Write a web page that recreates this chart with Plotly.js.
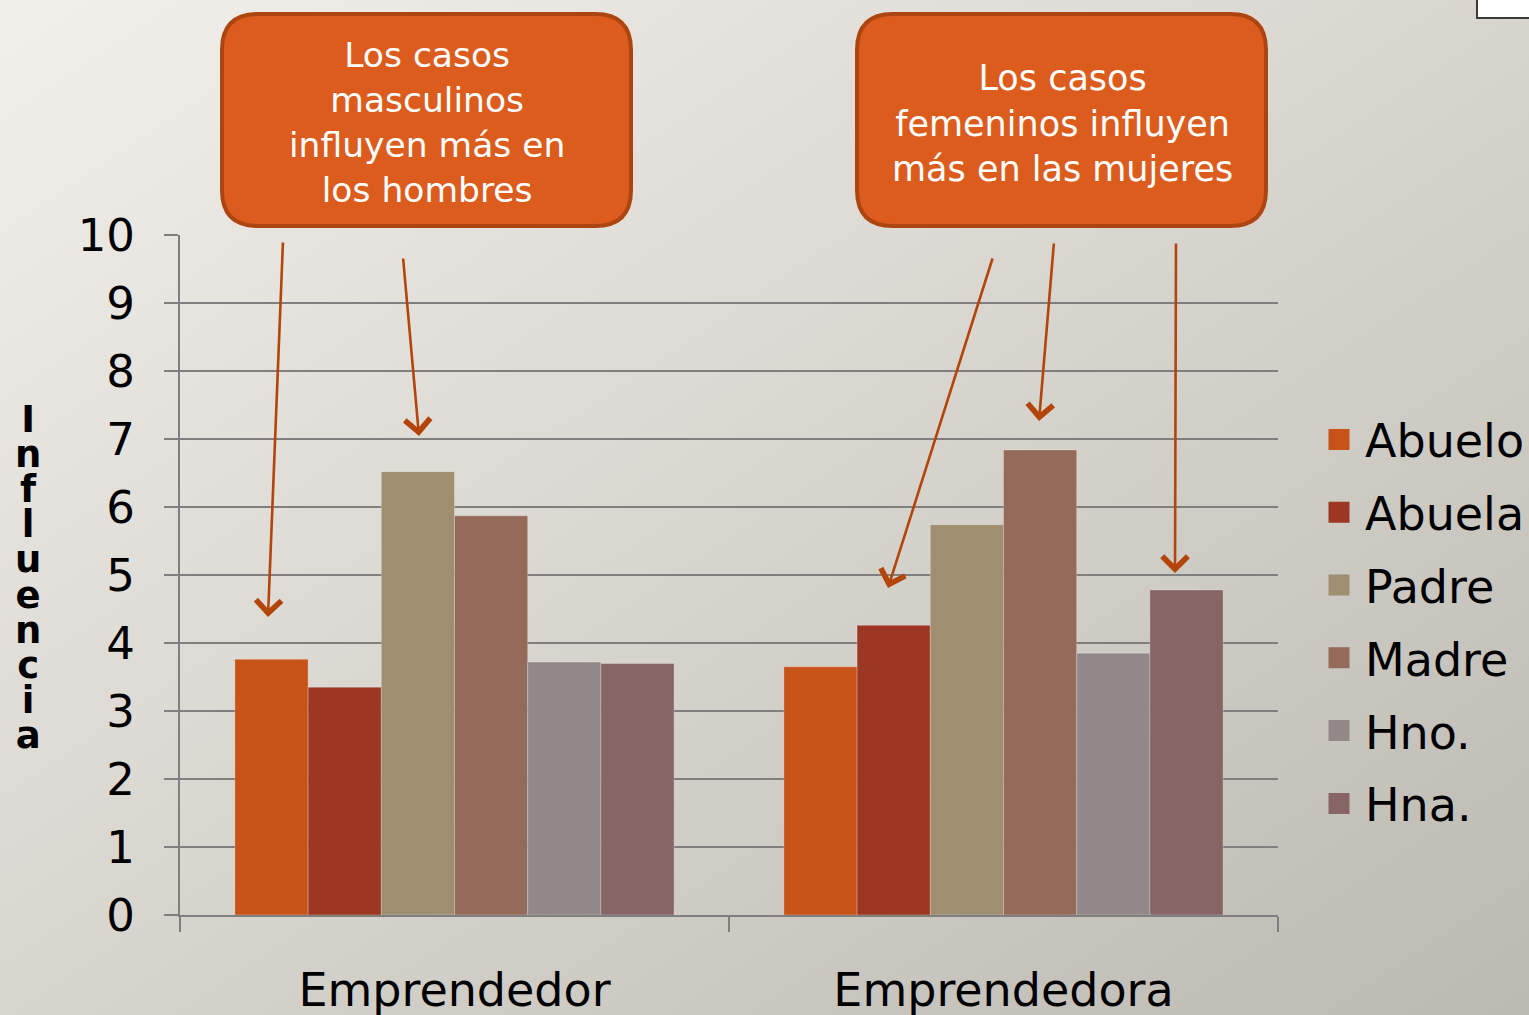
<!DOCTYPE html>
<html>
<head>
<meta charset="utf-8">
<script src="https://cdn.plot.ly/plotly-3.0.1.min.js"></script>
<style>
html, body { margin:0; padding:0; width:1529px; height:1015px; overflow:hidden;
  background: linear-gradient(to bottom right, #F2F0EB 0%, #D8D5CF 50%, #BCB9B3 100%); }
#chart { width:1529px; height:1015px; }
</style>
</head>
<body>
<div id="chart"></div>
<script>
// ---- data ----
const categories = ['Emprendedor', 'Emprendedora'];
const seriesNames = ['Abuelo', 'Abuela', 'Padre', 'Madre', 'Hno.', 'Hna.'];
const abuelo = [3.76, 3.65];
const abuela = [3.35, 4.26];
const padre  = [6.52, 5.74];
const madre  = [5.87, 6.84];
const hno    = [3.72, 3.85];
const hna    = [3.70, 4.78];
const yTickVals = [0, 1, 2, 3, 4, 5, 6, 7, 8, 9, 10];
const yTitle = 'Influencia';
const noteMasc = 'Los casos<br>masculinos<br>influyen más en<br>los hombres';
const noteFem = 'Los casos<br>femeninos influyen<br>más en las mujeres';

// ---- style ----
const seriesValues = [abuelo, abuela, padre, madre, hno, hna];
const colors = ['#C75318', '#9B3722', '#9F8E70', '#946A5A', '#938888', '#886565'];
const FONT = 'DejaVu Sans, Verdana, sans-serif';
const GRID = '#7F7F7F';
const ARROW = '#B3440A';

const L = 180, T = 235, W = 1098, H = 680;
const px2x = p => (p - L) / W;
const py2y = p => (T + H - p) / H;

const traces = [];
seriesNames.forEach((name, i) => {
  traces.push({
    type: 'bar', name: name, x: categories, y: seriesValues[i],
    marker: { color: colors[i], line: { color: 'rgba(255,255,255,0.25)', width: 1 } },
    legendgroup: name, showlegend: false, hoverinfo: 'x+y+name'
  });
});
// legend entries with large square swatches
seriesNames.forEach((name, i) => {
  traces.push({
    type: 'scatter', mode: 'markers', name: name, x: [null], y: [null],
    marker: { symbol: 'square', size: 16, color: colors[i], line: { color: colors[i], width: 5 } },
    legendgroup: name, showlegend: true, hoverinfo: 'skip'
  });
});

function rrect(x0, y0, x1, y1, r) {
  const P = (x, y) => px2x(x).toFixed(5) + ',' + py2y(y).toFixed(5);
  return 'M' + P(x0 + r, y0) + ' L' + P(x1 - r, y0) + ' Q' + P(x1, y0) + ' ' + P(x1, y0 + r) +
    ' L' + P(x1, y1 - r) + ' Q' + P(x1, y1) + ' ' + P(x1 - r, y1) +
    ' L' + P(x0 + r, y1) + ' Q' + P(x0, y1) + ' ' + P(x0, y1 - r) +
    ' L' + P(x0, y0 + r) + ' Q' + P(x0, y0) + ' ' + P(x0 + r, y0) + ' Z';
}

const shapes = [
  { type: 'path', xref: 'paper', yref: 'paper', path: rrect(222, 14, 631, 226, 36),
    fillcolor: '#DC5C1E', line: { color: '#AD4511', width: 4 }, layer: 'above' },
  { type: 'path', xref: 'paper', yref: 'paper', path: rrect(857, 14, 1266, 226, 36),
    fillcolor: '#DC5C1E', line: { color: '#AD4511', width: 4 }, layer: 'above' },
  { type: 'rect', xref: 'paper', yref: 'paper', x0: px2x(1477), x1: px2x(1545), y0: py2y(18), y1: py2y(-6),
    fillcolor: '#FFFFFF', line: { color: '#3A3A3A', width: 2 }, layer: 'above' }
];

// arrows: head pixel position, tail offset in pixels
const arrows = [
  { hx: 268, hy: 617, ax: 15, ay: -376 },
  { hx: 419, hy: 436, ax: -16, ay: -179 },
  { hx: 888, hy: 588, ax: 105, ay: -331 },
  { hx: 1039, hy: 421, ax: 15, ay: -179 },
  { hx: 1175, hy: 573, ax: 1, ay: -331 }
];

const annotations = arrows.map(a => ({
  xref: 'paper', yref: 'paper', x: px2x(a.hx), y: py2y(a.hy), ax: a.ax, ay: a.ay,
  axref: 'pixel', ayref: 'pixel', text: '', showarrow: true,
  arrowhead: 4, arrowsize: 1.9, arrowwidth: 2.6, arrowcolor: ARROW, standoff: 0
}));

annotations.push({
  xref: 'paper', yref: 'paper', x: px2x(427), y: py2y(123), xanchor: 'center', yanchor: 'middle',
  text: noteMasc, showarrow: false, align: 'center',
  font: { family: FONT, size: 34.5, color: '#FFFFFF' }
});
annotations.push({
  xref: 'paper', yref: 'paper', x: px2x(1062), y: py2y(124), xanchor: 'center', yanchor: 'middle',
  text: noteFem, showarrow: false, align: 'center',
  font: { family: FONT, size: 35, color: '#FFFFFF' }
});
annotations.push({
  xref: 'paper', yref: 'paper', x: px2x(28), y: py2y(577), xanchor: 'center', yanchor: 'middle',
  text: yTitle.split('').map(c => '<span style="font-size:37px">' + c + '</span>').join('<br>'),
  showarrow: false, align: 'center',
  font: { family: FONT, size: 27, color: '#000000', weight: 700 }
});

const layout = {
  width: 1529, height: 1015,
  margin: { l: L, r: 1529 - L - W, t: T, b: 1015 - T - H, pad: 0, autoexpand: false },
  paper_bgcolor: 'rgba(0,0,0,0)', plot_bgcolor: 'rgba(0,0,0,0)',
  barmode: 'group', bargap: 0.2, bargroupgap: 0,
  showlegend: true,
  legend: {
    x: px2x(1313), xanchor: 'left', y: py2y(403), yanchor: 'top',
    font: { family: FONT, size: 46, color: '#000000' },
    bgcolor: 'rgba(0,0,0,0)', borderwidth: 0, itemwidth: 42, tracegroupgap: 10,
    traceorder: 'grouped'
  },
  xaxis: {
    type: 'category', categoryorder: 'array', categoryarray: categories,
    showgrid: false, showline: true, linecolor: GRID, linewidth: 2,
    ticks: 'outside', tickson: 'boundaries', ticklen: 15, tickwidth: 2, tickcolor: GRID,
    tickfont: { family: FONT, size: 46, color: '#000000' }, ticklabelstandoff: 34,
    zeroline: false, fixedrange: true
  },
  yaxis: {
    range: [0, 10], tickvals: yTickVals, ticktext: yTickVals.map(String),
    showgrid: true, gridcolor: GRID, gridwidth: 2,
    showline: true, linecolor: GRID, linewidth: 2,
    ticks: 'outside', ticklen: 14, tickwidth: 2, tickcolor: GRID,
    tickfont: { family: FONT, size: 45, color: '#000000' }, ticklabelstandoff: 20,
    zeroline: false, fixedrange: true
  },
  shapes: shapes,
  annotations: annotations
};

Plotly.newPlot('chart', traces, layout, { displayModeBar: false, staticPlot: true });
</script>
</body>
</html>
